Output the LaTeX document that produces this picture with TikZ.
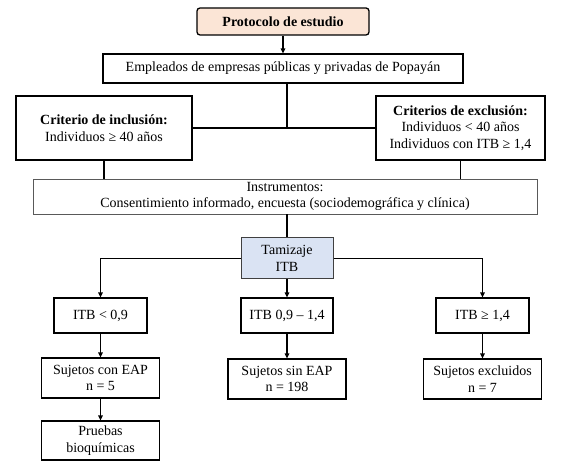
\documentclass[tikz,border=0pt]{standalone}
\usepackage{fontspec}
\setmainfont[Ligatures=TeX]{Liberation Serif}
\usetikzlibrary{arrows.meta}
\definecolor{peach}{HTML}{FBE5D6}
\definecolor{lblue}{HTML}{DAE3F3}
\tikzset{
  box/.style={draw=black, line width=1.1pt, fill=white, align=center, inner sep=1pt, font=\fontsize{14}{16.5}\selectfont},
  graybox/.style={box, draw=black!65, line width=0.8pt},
  conn/.style={line width=1.6pt, black},
  arr/.style={conn, -{Triangle[length=5pt,width=4.5pt]}},
}
\begin{document}
\begin{tikzpicture}[x=1pt,y=-1pt]
\useasboundingbox (0,0) rectangle (562,470);
\node[box, rounded corners=3pt, fill=peach, line width=1.3pt, minimum width=172pt, minimum height=27pt] (prot) at (283,21.5) {\textbf{Protocolo de estudio}};
\node[box, minimum width=360pt, minimum height=29pt] (emp) at (283,68.5) {Empleados de empresas públicas y privadas de Popayán};
\node[box, minimum width=176pt, minimum height=64pt] (inc) at (104,128) {\textbf{Criterio de inclusión:}\\Individuos ≥ 40 años};
\node[box, minimum width=169pt, minimum height=64pt] (exc) at (460.5,128) {\textbf{Criterios de exclusión:}\\Individuos < 40 años\\Individuos con ITB ≥ 1,4};
\node[graybox, minimum width=504pt, minimum height=35pt] (ins) at (285,196.5) {Instrumentos:\\Consentimiento informado, encuesta (sociodemográfica y clínica)};
\node[graybox, fill=lblue, draw=black!75, line width=1pt, minimum width=92pt, minimum height=41pt] (tam) at (287,258.5) {Tamizaje\\ITB};
\node[box, minimum width=93pt, minimum height=35pt] (itba) at (100.5,315.5) {ITB < 0,9};
\node[box, minimum width=92pt, minimum height=35pt] (itbb) at (287,315.5) {ITB 0,9 – 1,4};
\node[box, minimum width=93pt, minimum height=35pt] (itbc) at (482.5,315.5) {ITB ≥ 1,4};
\node[box, minimum width=118pt, minimum height=40pt] (sca) at (100.5,378) {Sujetos con EAP\\n = 5};
\node[box, minimum width=118pt, minimum height=40pt] (ssa) at (287,379) {Sujetos sin EAP\\n = 198};
\node[box, minimum width=118pt, minimum height=40pt] (sex) at (482.5,379) {Sujetos excluidos\\n = 7};
\node[box, minimum width=118pt, minimum height=39pt] (pru) at (100.5,440.5) {Pruebas\\bioquímicas};
\coordinate (stem) at (287,128);
\draw[arr] (prot.south) -- (prot.south |- emp.north);
\draw[conn] (emp.south -| stem) -- (stem);
\draw[conn] (inc.east) -- (exc.west);
\draw[conn] (inc.south) -- (inc.south |- ins.north);
\draw[conn] (exc.south) -- (exc.south |- ins.north);
\draw[conn] (tam.north |- ins.south) -- (tam.north);
\draw[arr] (tam.west) -| (itba.north);
\draw[arr] (tam.east) -| (itbc.north);
\draw[arr] (tam.south) -- (itbb.north);
\draw[arr] (itba.south) -- (sca.north);
\draw[arr] (itbb.south) -- (ssa.north);
\draw[arr] (itbc.south) -- (sex.north);
\draw[arr] (sca.south) -- (pru.north);
\end{tikzpicture}
\end{document}
